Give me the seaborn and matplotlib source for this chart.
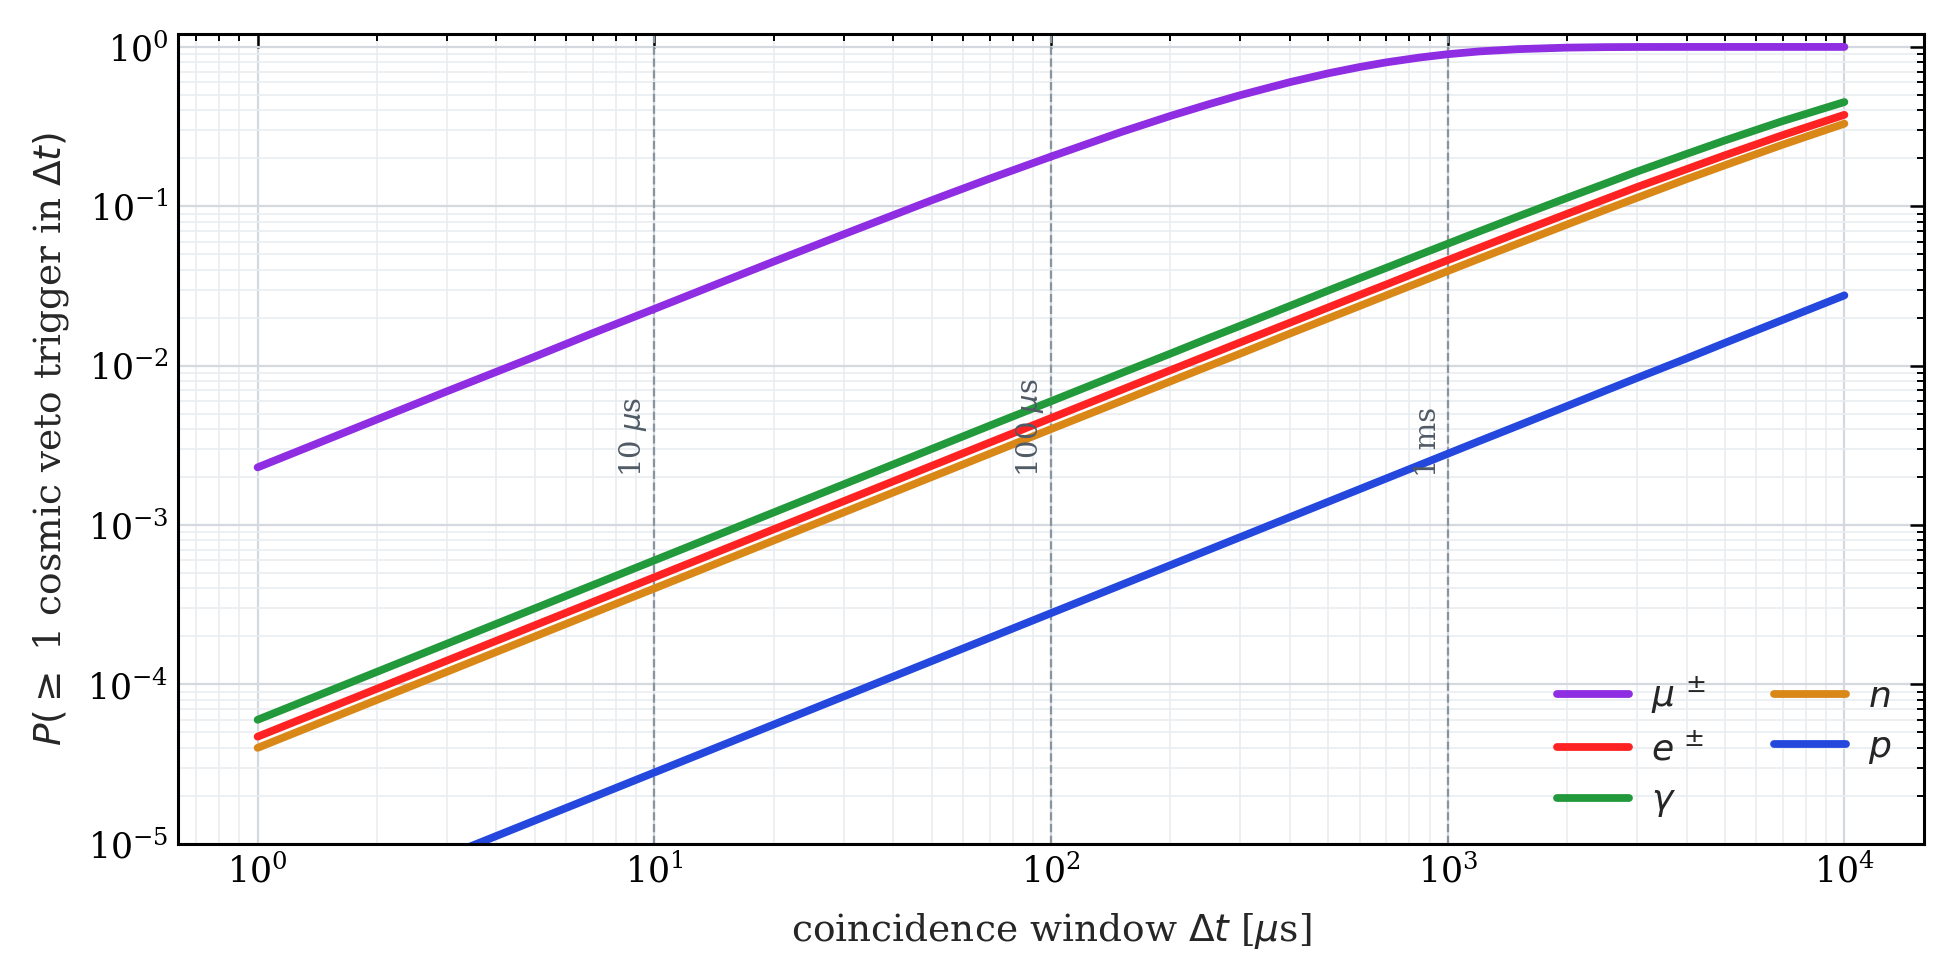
import numpy as np
import pandas as pd
import matplotlib
matplotlib.use("Agg")
import matplotlib.pyplot as plt
import seaborn as sns

# coincidence window [us]
dt = [1, 2, 3, 5, 7, 10, 15, 20, 30, 50, 70, 100, 150, 200, 250, 300, 400, 500,
      600, 700, 850, 1000, 1200, 1500, 2000, 2500, 3000, 4000, 5000, 7000, 10000]

p_mu = [0.0023, 0.0046, 0.0069, 0.0114, 0.0160, 0.0227, 0.0339, 0.0450, 0.0667,
        0.109, 0.149, 0.205, 0.292, 0.369, 0.437, 0.498, 0.601, 0.683, 0.748, 0.800,
        0.858, 0.900, 0.937, 0.968, 0.990, 0.997, 0.999, 0.9999, 1.0, 1.0, 1.0]
p_e = [4.7e-5, 9.4e-5, 1.41e-4, 2.35e-4, 3.29e-4, 4.7e-4, 7.05e-4, 9.4e-4, 1.41e-3,
       2.35e-3, 3.29e-3, 4.69e-3, 7.03e-3, 9.36e-3, 0.01168, 0.0140, 0.0186, 0.0232,
       0.0278, 0.0323, 0.0392, 0.0459, 0.0548, 0.0681, 0.0897, 0.111, 0.132, 0.171,
       0.209, 0.280, 0.375]
p_gamma = [6e-5, 1.2e-4, 1.8e-4, 3e-4, 4.2e-4, 6e-4, 9e-4, 1.2e-3, 1.8e-3, 3e-3,
           4.2e-3, 5.98e-3, 8.96e-3, 0.0119, 0.01489, 0.0178, 0.0237, 0.0296, 0.0354,
           0.0411, 0.0497, 0.0582, 0.0695, 0.0861, 0.113, 0.139, 0.165, 0.213, 0.259,
           0.343, 0.451]
p_n = [4e-5, 8e-5, 1.2e-4, 2e-4, 2.8e-4, 4e-4, 6e-4, 8e-4, 1.2e-3, 2e-3, 2.8e-3,
       4e-3, 5.98e-3, 7.97e-3, 9.95e-3, 0.0119, 0.0159, 0.0198, 0.0237, 0.0276,
       0.0334, 0.0392, 0.0469, 0.0582, 0.0769, 0.0952, 0.113, 0.148, 0.181, 0.244,
       0.330]
p_p = [2.8e-6, 5.6e-6, 8.4e-6, 1.4e-5, 1.96e-5, 2.8e-5, 4.2e-5, 5.6e-5, 8.4e-5,
       1.4e-4, 1.96e-4, 2.8e-4, 4.2e-4, 5.6e-4, 7e-4, 8.4e-4, 1.12e-3, 1.4e-3,
       1.68e-3, 1.96e-3, 2.38e-3, 2.8e-3, 3.36e-3, 4.19e-3, 5.58e-3, 6.98e-3,
       8.37e-3, 0.0111, 0.0139, 0.0194, 0.0276]

species = [r"$\mu^{\,\pm}$", r"$e^{\,\pm}$", r"$\gamma$", r"$n$", r"$p$"]
series = [p_mu, p_e, p_gamma, p_n, p_p]
colors = ["#8e2de2", "#ff2222", "#22993a", "#d98818", "#2447dd"]

marker_x = [10, 100, 1000]
marker_labels = [r"10 $\mu$s", r"100 $\mu$s", "1 ms"]

df = pd.concat([pd.DataFrame({"dt": dt, "P": s, "species": name})
                for name, s in zip(species, series)], ignore_index=True)

sns.set_theme(style="white")
plt.rcParams["font.family"] = ["DejaVu Serif"]
plt.rcParams["mathtext.fontset"] = "dejavusans"

fig = plt.figure(figsize=(9.775, 4.9), dpi=200)
ax = fig.add_axes([0.0912, 0.139, 0.984 - 0.0912, 0.965 - 0.139])

sns.lineplot(data=df, x="dt", y="P", hue="species", hue_order=species,
             palette=colors, linewidth=2.8, ax=ax, legend=True)

ax.set_xscale("log")
ax.set_yscale("log")
ax.set_xlim(10 ** -0.2, 10 ** 4.2)
ax.set_ylim(1e-5, 1.2)

ax.grid(True, which="major", color="#d3d9df", linewidth=0.8)
ax.grid(True, which="minor", color="#e9edf1", linewidth=0.6)
ax.set_axisbelow(True)

for xv, lab in zip(marker_x, marker_labels):
    ax.axvline(xv, color="#8a949f", linestyle="--", linewidth=0.8, zorder=1.5)
    ax.text(xv * 0.97, 2.0e-3, lab, rotation=90, ha="right", va="bottom",
            fontsize=10.5, color="#505a65")

ax.tick_params(which="both", direction="in", top=True, right=True,
               labelsize=12.5, colors="black")
ax.tick_params(which="major", length=5, width=0.9)
ax.tick_params(which="minor", length=2.5, width=0.7)
for sp in ax.spines.values():
    sp.set_linewidth(1.1)
    sp.set_color("black")

ax.set_xlabel(r"coincidence window $\Delta t$ [$\mu$s]", fontsize=13.5,
              labelpad=7.5)
ax.set_ylabel(r"$P(\geq$ 1 cosmic veto trigger in $\Delta t)$", fontsize=13.5,
              labelpad=6)

handles, labels = ax.get_legend_handles_labels()
ax.legend(handles, labels, loc="lower right", bbox_to_anchor=(1.0, -0.01),
          ncol=2, frameon=False, fontsize=13, handlelength=2.0,
          handletextpad=0.6, columnspacing=1.9, labelspacing=0.45)

fig.savefig("out.png", dpi=200)
